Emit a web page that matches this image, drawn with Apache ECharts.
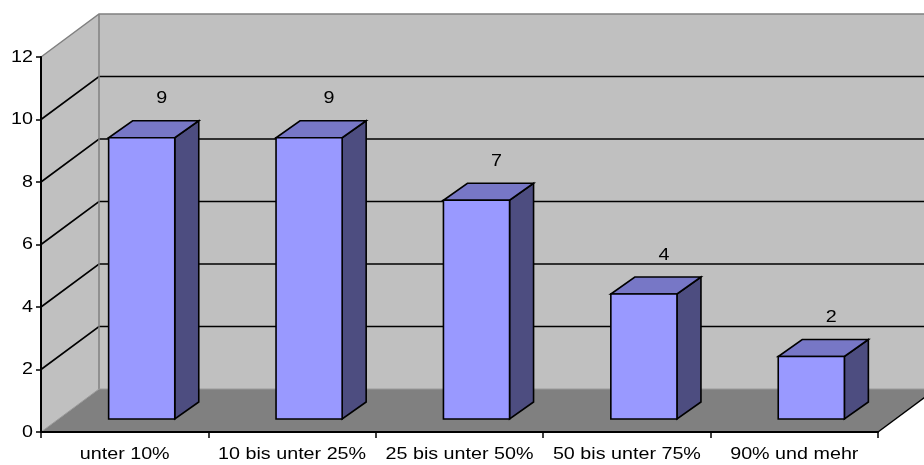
<!DOCTYPE html>
<html>
<head>
<meta charset="utf-8">
<style>
  html, body { margin: 0; padding: 0; background: #ffffff; }
  #chart { width: 924px; height: 465px; }
</style>
<script src="https://cdn.jsdelivr.net/npm/echarts@6/dist/echarts.min.js"></script>
</head>
<body>
<div id="chart"></div>
<script>
// Categories and counts
const categories = ['unter 10%', '10 bis unter 25%', '25 bis unter 50%', '50 bis unter 75%', '90% und mehr'];
const counts = [9, 9, 7, 4, 2];
const yTicks = [0, 2, 4, 6, 8, 10, 12];

// Oblique depth of the box (back wall offset from the front plane)
const DEPTH = [58, -43];
// Front and back faces of each column inside the box depth
const BAR_FRONT = [17, -13];
const BAR_BACK = [41, -30];

// Text is set in a slightly widened sans face
const FONT = '17px "Liberation Sans", Arial, sans-serif';
const TEXT_SCALE_X = 1.16;

const chart = echarts.init(document.getElementById('chart'), null, { renderer: 'canvas' });

function poly(points, fill, stroke, lw) {
  return {
    type: 'polygon',
    shape: { points: points },
    style: { fill: fill, stroke: stroke || null, lineWidth: lw || 0 }
  };
}
function line(pts, stroke, lw) {
  return {
    type: 'polyline',
    shape: { points: pts },
    style: { fill: null, stroke: stroke, lineWidth: lw }
  };
}
function label(text, x, y, align) {
  return {
    type: 'text',
    x: x,
    y: y,
    scaleX: TEXT_SCALE_X,
    style: {
      text: text,
      x: 0,
      y: 0,
      fill: '#000000',
      font: FONT,
      align: align || 'center',
      verticalAlign: 'middle'
    }
  };
}

// Walls, floor, gridlines and tick labels of the 3D box
function renderBox(params, api) {
  const cs = params.coordSys;
  const x0 = cs.x, x1 = cs.x + cs.width;
  const yBot = api.coord([0, 0])[1];
  const yTop = api.coord([0, yTicks[yTicks.length - 1]])[1];
  const dx = DEPTH[0], dy = DEPTH[1];
  const children = [];
  // left side wall
  children.push(poly([[x0, yTop], [x0 + dx, yTop + dy], [x0 + dx, yBot + dy], [x0, yBot]], '#c0c0c0'));
  // back wall
  children.push(poly([[x0 + dx, yTop + dy], [x1 + dx, yTop + dy], [x1 + dx, yBot + dy], [x0 + dx, yBot + dy]], '#c0c0c0'));
  // floor
  children.push(poly([[x0, yBot], [x0 + dx, yBot + dy], [x1 + dx, yBot + dy], [x1, yBot]], '#808080'));
  // grid lines on side and back walls
  yTicks.forEach(function (v) {
    const y = api.coord([0, v])[1];
    children.push(label(String(v), x0 - 8, y, 'right'));
    if (v === 0) return;
    const isTop = v === yTicks[yTicks.length - 1];
    children.push(line([[x0, y], [x0 + dx, y + dy], [x1 + dx, y + dy]], isTop ? '#808080' : '#000000', isTop ? 1.5 : 1.6));
  });
  // edges of the box
  children.push(line([[x0 + dx, yTop + dy], [x0 + dx, yBot + dy]], '#808080', 1.5));
  children.push(line([[x0, yBot], [x0 + dx, yBot + dy], [x1 + dx, yBot + dy]], '#9a9a9a', 1));
  children.push(line([[x1, yBot], [x1 + dx, yBot + dy]], '#000000', 1.5));
  // category labels under the axis
  categories.forEach(function (c, i) {
    const p = api.coord([i, 0]);
    children.push(label(c, p[0], yBot + 22));
  });
  return { type: 'group', children: children };
}

// One 3D column per category
function renderBar(params, api) {
  const idx = api.value(0);
  const val = api.value(1);
  const top = api.coord([idx, val]);
  const base = api.coord([idx, 0]);
  const band = api.size([1, 0])[0];
  const w = band * 0.395;
  const fl = top[0] - w / 2 + BAR_FRONT[0];
  const fr = fl + w;
  const ft = top[1] + BAR_FRONT[1];
  const fb = base[1] + BAR_FRONT[1];
  const ddx = BAR_BACK[0] - BAR_FRONT[0];
  const ddy = BAR_BACK[1] - BAR_FRONT[1];
  const stroke = '#000000', lw = 1.6;
  return {
    type: 'group',
    children: [
      poly([[fr, ft], [fr + ddx, ft + ddy], [fr + ddx, fb + ddy], [fr, fb]], '#4d4d80', stroke, lw),
      poly([[fl, ft], [fr, ft], [fr + ddx, ft + ddy], [fl + ddx, ft + ddy]], '#7777c6', stroke, lw),
      poly([[fl, ft], [fr, ft], [fr, fb], [fl, fb]], '#9999ff', stroke, lw),
      label(String(val), top[0] + 37, top[1] - 52)
    ]
  };
}

chart.setOption({
  animation: false,
  backgroundColor: '#ffffff',
  grid: { left: 41, right: 46, top: 57, bottom: 33, containLabel: false },
  xAxis: {
    type: 'category',
    data: categories,
    boundaryGap: true,
    axisLine: { lineStyle: { color: '#000000', width: 2 } },
    axisTick: { show: true, length: 6, lineStyle: { color: '#000000', width: 1.5 } },
    axisLabel: { show: false },
    splitLine: { show: false },
    z: 10
  },
  yAxis: {
    type: 'value',
    min: 0,
    max: 12,
    interval: 2,
    axisLine: { show: true, lineStyle: { color: '#000000', width: 2 } },
    axisTick: { show: true, length: 5, lineStyle: { color: '#000000', width: 1.5 } },
    axisLabel: { show: false },
    splitLine: { show: false },
    z: 10
  },
  series: [
    {
      type: 'custom',
      renderItem: renderBox,
      data: [[0, 0]],
      silent: true,
      clip: false,
      z: 1
    },
    {
      type: 'custom',
      renderItem: renderBar,
      data: counts.map(function (v, i) { return [i, v]; }),
      encode: { x: 0, y: 1 },
      clip: false,
      z: 5
    }
  ]
});
</script>
</body>
</html>
